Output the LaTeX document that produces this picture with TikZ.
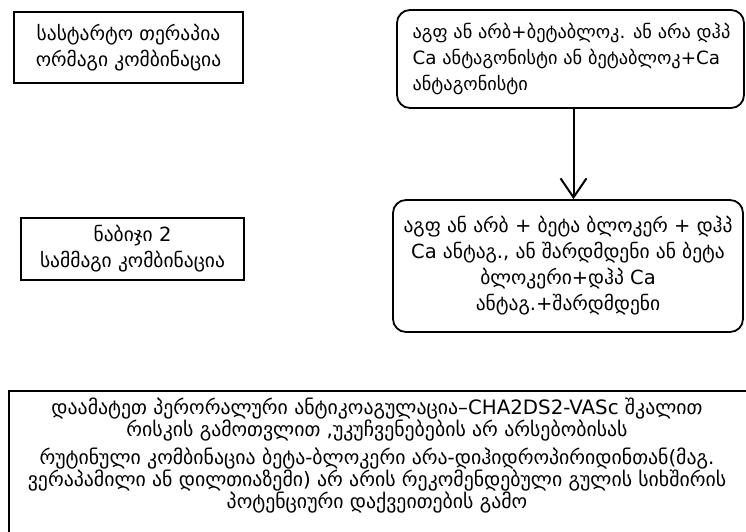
\documentclass[tikz,border=0pt]{standalone}
\usepackage{fontspec}
\setmainfont{DejaVu Sans}
\usetikzlibrary{arrows.meta}
\begin{document}
\begin{tikzpicture}[x=1pt,y=-1pt,>={Straight Barb[length=19pt,width=26pt,line width=2pt]},
	plainbox/.style={draw,line width=1.8pt,minimum width=#1,align=center,inner sep=0pt},
	roundbox/.style={draw,line width=1.8pt,rounded corners=13pt,minimum width=#1,inner sep=0pt},
	font=\fontsize{19.5}{26}\selectfont]
	\useasboundingbox (0,0) rectangle (746,532);
	\node[plainbox=229pt,minimum height=71pt] (start) at (128.5,47.5) {სასტარტო თერაპია\\ორმაგი კომბინაცია};
	\node[plainbox=223pt,minimum height=62pt] (step2) at (132.5,249) {ნაბიჯი 2\\სამმაგი კომბინაცია};
	\node[roundbox=347pt,minimum height=98pt] (dual) at (570.5,59) {};
	\node[anchor=west,align=left,font=\fontsize{18.3}{26}\selectfont] (dualtext) at ([xshift=13pt]dual.west) {აგფ ან არბ+ბეტაბლოკ. ან არა დჰპ\\Ca ანტაგონისტი ან ბეტაბლოკ+Ca\\ანტაგონისტი};
	\node[roundbox=350pt,minimum height=132pt,align=center] (triple) at (568,266) {აგფ ან არბ + ბეტა ბლოკერ + დჰპ\\Ca ანტაგ., ან შარდმდენი ან ბეტა\\ბლოკერი+დჰპ Ca\\ანტაგ.+შარდმდენი};
	\coordinate (tip) at ([xshift=3pt]dual.south |- triple.north);
	\draw[line width=2pt,->] ([xshift=3pt]dual.south) -- (tip);
	\clip (0,0) rectangle (746,532);
	\draw[line width=1.8pt] (9,391) rectangle (770,560);
	\node[align=center,font=\fontsize{19.8}{22}\selectfont] (note) at (377,456) {დაამატეთ პერორალური ანტიკოაგულაცია–CHA2DS2-VASc შკალით\\რისკის გამოთვლით ,უკუჩვენებების არ არსებობისას\\[6pt]რუტინული კომბინაცია ბეტა-ბლოკერი  არა-დიჰიდროპირიდინთან(მაგ.\\ვერაპამილი ან დილთიაზემი) არ არის რეკომენდებული გულის სიხშირის\\პოტენციური დაქვეითების გამო};
\end{tikzpicture}
\end{document}
